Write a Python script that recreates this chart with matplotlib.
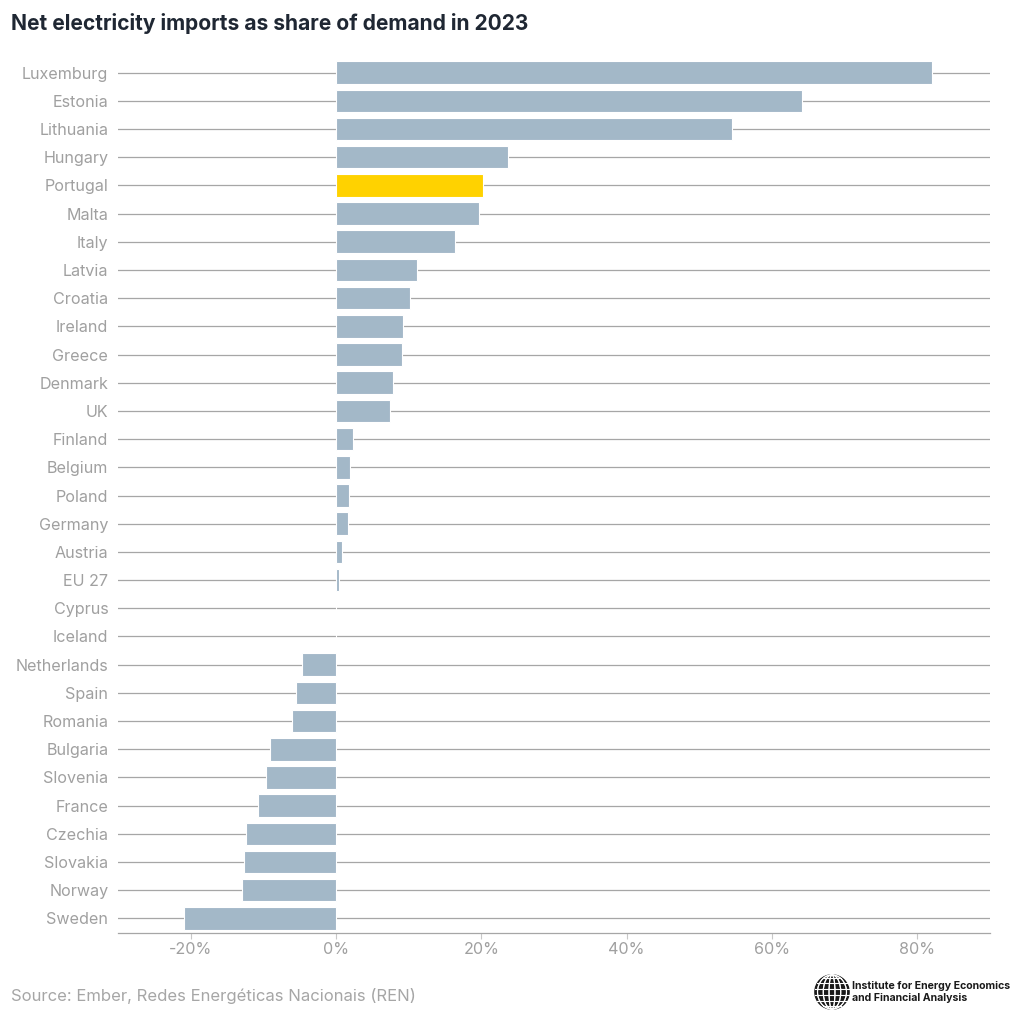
import matplotlib.pyplot as plt
import matplotlib.patches as mpatches
import numpy as np

countries = ["Luxemburg", "Estonia", "Lithuania", "Hungary", "Portugal", "Malta",
             "Italy", "Latvia", "Croatia", "Ireland", "Greece", "Denmark", "UK",
             "Finland", "Belgium", "Poland", "Germany", "Austria", "EU 27", "Cyprus",
             "Iceland", "Netherlands", "Spain", "Romania", "Bulgaria", "Slovenia",
             "France", "Czechia", "Slovakia", "Norway", "Sweden"]
shares = [82.0, 64.1, 54.5, 23.7, 20.2, 19.7, 16.4, 11.1, 10.2, 9.2, 9.1, 7.8, 7.4,
          2.3, 1.9, 1.8, 1.7, 0.8, 0.4, 0.0, 0.0, -4.7, -5.5, -6.1, -9.1, -9.6,
          -10.7, -12.4, -12.7, -12.9, -20.9]
highlight = "Portugal"
x_ticks = [-20, 0, 20, 40, 60, 80]

plt.rcParams['font.family'] = ['Inter', 'DejaVu Sans']

fig = plt.figure(figsize=(10.2, 10.25), dpi=100)
ax = fig.add_axes([118 / 1020, 92.5 / 1025, 872 / 1020, 874 / 1025])

ypos = np.arange(len(countries))
colors = ["#ffd200" if c == highlight else "#a3b8c8" for c in countries]

for y in ypos:
    ax.axhline(y, color="#a6a6a6", lw=0.9, zorder=1)
ax.barh(ypos, shares, height=0.8, color=colors, edgecolor="white", lw=0.8, zorder=2)

ax.set_ylim(len(countries) - 0.5, -0.5)
ax.set_xlim(-30, 90)
ax.set_yticks(ypos)
ax.set_yticklabels(countries)
ax.set_xticks(x_ticks)
ax.set_xticklabels([f"{t}%" for t in x_ticks])

for s in ["top", "right", "left"]:
    ax.spines[s].set_visible(False)
ax.spines["bottom"].set_color("#a6a6a6")
ax.spines["bottom"].set_linewidth(0.9)
ax.tick_params(axis="y", length=0, pad=7, labelsize=11.6, labelcolor="#a0a0a0")
ax.tick_params(axis="x", length=4, color="#c8c8c8", pad=3, labelsize=11.6, labelcolor="#a0a0a0")

fig.text(11 / 1020, 1 - 23 / 1025, "Net electricity imports as share of demand in 2023",
         fontsize=15.1, fontweight="bold", color="#1f2733", va="center")
fig.text(11 / 1020, 1 - 996 / 1025, "Source: Ember, Redes Energéticas Nacionais (REN)",
         fontsize=12, color="#a6a6a6", va="center")

# logo
lax = fig.add_axes([814 / 1020, 1 - 1010 / 1025, 36 / 1020, 36 / 1025])
lax.set_xlim(-1, 1)
lax.set_ylim(-1, 1)
lax.set_aspect("equal")
lax.axis("off")
lax.add_patch(mpatches.Circle((0, 0), 0.95, color="#1a1a1a"))
for a in np.linspace(-0.8, 0.8, 6):
    w = 2 * np.sqrt(max(0.95 ** 2 - a ** 2, 0))
    lax.add_patch(mpatches.Ellipse((0, 0), 0.01 + abs(a) * 2, 1.9, fill=False, ec="white", lw=0.8))
    lax.plot([-w / 2, w / 2], [a, a], color="white", lw=0.8)
fig.text(852 / 1020, 1 - 986 / 1025, "Institute for Energy Economics",
         fontsize=7.6, fontweight="bold", color="#1a1a1a", va="center")
fig.text(852 / 1020, 1 - 998 / 1025, "and Financial Analysis",
         fontsize=7.6, fontweight="bold", color="#1a1a1a", va="center")

fig.savefig("out.png", dpi=100)
